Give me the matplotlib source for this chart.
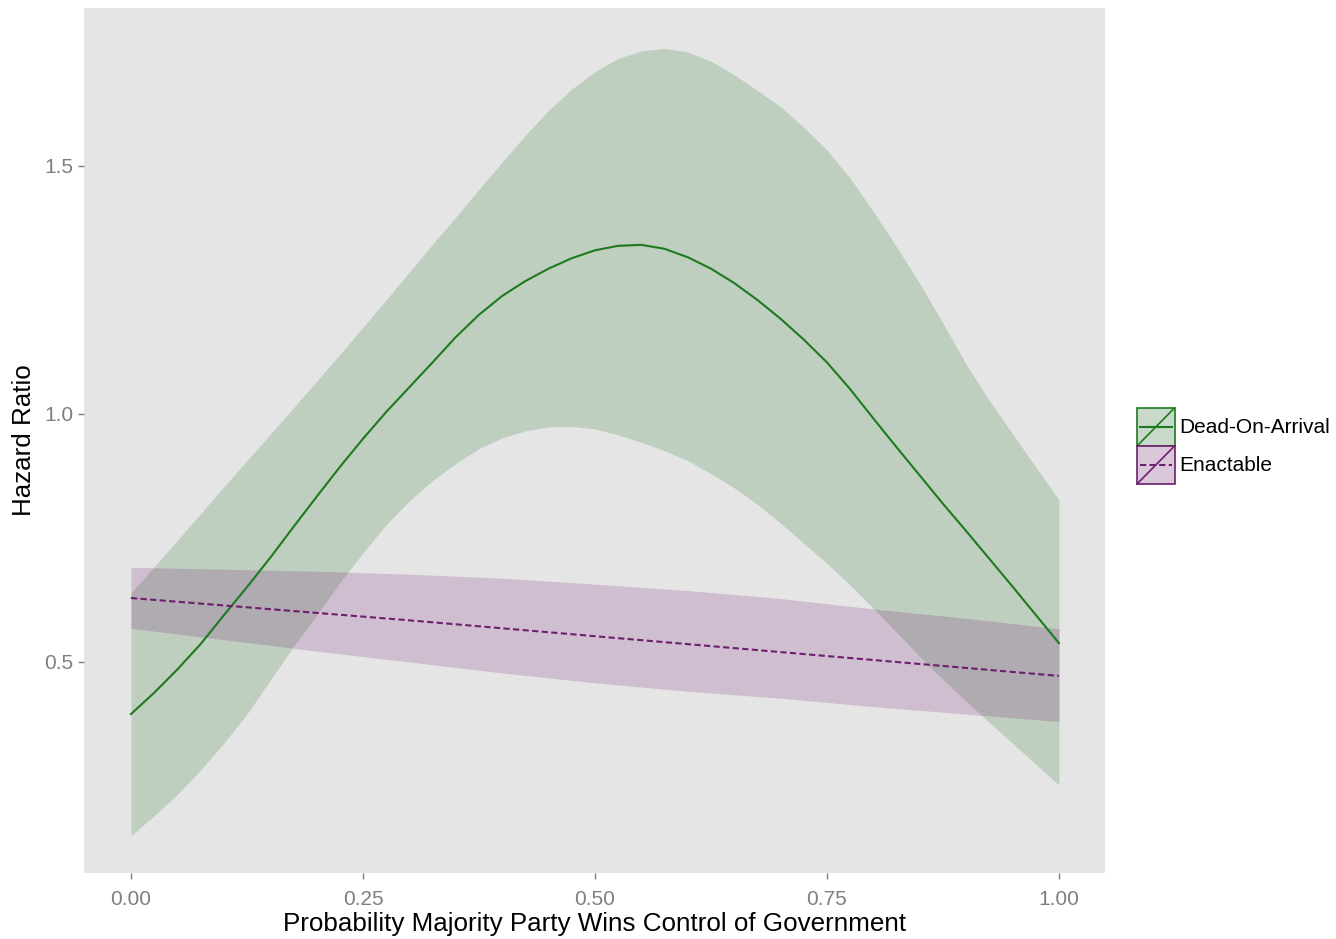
import matplotlib
matplotlib.use("Agg")
import matplotlib.pyplot as plt
from matplotlib.legend_handler import HandlerBase
from matplotlib.patches import Rectangle
from matplotlib.lines import Line2D

plt.rcParams['font.family'] = ['Liberation Sans', 'DejaVu Sans']

# ---- data ----
x = [0.000, 0.025, 0.050, 0.075, 0.100, 0.125, 0.150, 0.175, 0.200, 0.225,
     0.250, 0.275, 0.300, 0.325, 0.350, 0.375, 0.400, 0.425, 0.450, 0.475,
     0.500, 0.525, 0.550, 0.575, 0.600, 0.625, 0.650, 0.675, 0.700, 0.725,
     0.750, 0.775, 0.800, 0.825, 0.850, 0.875, 0.900, 0.925, 0.950, 0.975, 1.000]

doa_fit = [0.395, 0.438, 0.485, 0.536, 0.594, 0.651, 0.710, 0.772, 0.833, 0.893,
           0.950, 1.004, 1.054, 1.104, 1.155, 1.200, 1.238, 1.268, 1.293, 1.314,
           1.330, 1.339, 1.341, 1.333, 1.316, 1.293, 1.264, 1.230, 1.192, 1.150,
           1.104, 1.050, 0.991, 0.933, 0.876, 0.819, 0.764, 0.708, 0.652, 0.595, 0.538]
doa_hi = [0.639, 0.692, 0.745, 0.799, 0.853, 0.906, 0.959, 1.012, 1.066, 1.120,
          1.175, 1.230, 1.286, 1.342, 1.397, 1.453, 1.508, 1.562, 1.612, 1.655,
          1.690, 1.717, 1.732, 1.737, 1.730, 1.711, 1.684, 1.652, 1.620, 1.578,
          1.532, 1.475, 1.408, 1.337, 1.263, 1.183, 1.100, 1.027, 0.960, 0.893, 0.827]
doa_lo = [0.150, 0.190, 0.233, 0.282, 0.336, 0.395, 0.463, 0.531, 0.594, 0.660,
          0.720, 0.777, 0.825, 0.866, 0.900, 0.930, 0.952, 0.966, 0.974, 0.975,
          0.970, 0.958, 0.943, 0.926, 0.906, 0.880, 0.851, 0.818, 0.780, 0.739,
          0.699, 0.655, 0.608, 0.560, 0.511, 0.465, 0.421, 0.378, 0.336, 0.294, 0.252]

x_ena = [0.0, 0.1, 0.2, 0.3, 0.4, 0.5, 0.6, 0.7, 0.8, 0.9, 1.0]
ena_fit = [0.629, 0.614, 0.599, 0.584, 0.568, 0.552, 0.536, 0.520, 0.504, 0.488, 0.472]
ena_hi = [0.691, 0.687, 0.683, 0.677, 0.669, 0.657, 0.644, 0.628, 0.607, 0.588, 0.567]
ena_lo = [0.568, 0.545, 0.522, 0.500, 0.478, 0.458, 0.441, 0.427, 0.410, 0.395, 0.380]

labels = ["Dead-On-Arrival", "Enactable"]
xticks = [0.00, 0.25, 0.50, 0.75, 1.00]
xtick_labels = ["0.00", "0.25", "0.50", "0.75", "1.00"]
yticks = [0.5, 1.0, 1.5]
ytick_labels = ["0.5", "1.0", "1.5"]

green_line = "#1E7A1E"
green_fill = (34/255, 114/255, 39/255)
purple_line = "#6E1E6E"
purple_fill = (119/255, 34/255, 119/255)
alpha = 0.2

fig = plt.figure(figsize=(13.36, 9.39), dpi=100)
ax = fig.add_axes([84/1336, 1 - 873/939, (1105-84)/1336, (873-8)/939])
ax.set_facecolor("#E5E5E5")

ax.fill_between(x, doa_lo, doa_hi, color=green_fill, alpha=alpha, linewidth=0)
ax.plot(x, doa_fit, color=green_line, linewidth=1.5)
ax.fill_between(x_ena, ena_lo, ena_hi, color=purple_fill, alpha=alpha, linewidth=0)
ax.plot(x_ena, ena_fit, color=purple_line, linewidth=1.5, dashes=(3, 1.6))

ax.set_xlim(-0.0506, 1.0496)
ax.set_ylim(0.0746, 1.8185)
for s in ax.spines.values():
    s.set_visible(False)
ax.set_xticks(xticks)
ax.set_xticklabels(xtick_labels)
ax.set_yticks(yticks)
ax.set_yticklabels(ytick_labels)
ax.tick_params(axis='both', colors="#7F7F7F", labelcolor="#7F7F7F", labelsize=15,
               length=4.5, width=1.0, direction='out')
ax.tick_params(axis='x', pad=8)
ax.tick_params(axis='y', pad=3)
ax.set_xlabel("Probability Majority Party Wins Control of Government", fontsize=18.7,
              color="black", labelpad=2)
ax.set_ylabel("Hazard Ratio", fontsize=18.7, color="black", labelpad=6)


class KeyHandler(HandlerBase):
    def __init__(self, line_color, fill_color, dashed):
        super().__init__()
        self.line_color = line_color
        self.fill_color = fill_color
        self.dashed = dashed

    def create_artists(self, legend, orig_handle, xdescent, ydescent, width, height,
                       fontsize, trans):
        x0, y0 = -xdescent, -ydescent
        bg = Rectangle((x0, y0), width, height, facecolor="#F2F2F2", edgecolor='none',
                       transform=trans)
        rect = Rectangle((x0, y0), width, height, facecolor=self.fill_color, alpha=alpha,
                         edgecolor='none', transform=trans)
        border = Rectangle((x0, y0), width, height, facecolor='none',
                           edgecolor=self.line_color, linewidth=1.2, transform=trans)
        diag = Line2D([x0, x0 + width], [y0, y0 + height], color=self.line_color,
                      linewidth=1.2, transform=trans)
        kw = dict(dashes=(3, 1.6)) if self.dashed else {}
        hl = Line2D([x0 + 2, x0 + width - 2], [y0 + height / 2, y0 + height / 2],
                    color=self.line_color, linewidth=1.5, transform=trans, **kw)
        return [bg, rect, diag, hl, border]


h1 = Rectangle((0, 0), 1, 1)
h2 = Rectangle((0, 0), 1, 1)
fig.legend([h1, h2], labels, loc='center left', bbox_to_anchor=(1137/1336, 1 - 446/939),
           frameon=False, fontsize=15, handlelength=1.8, handleheight=2.43,
           labelspacing=0.0, handletextpad=0.25, borderpad=0, borderaxespad=0,
           handler_map={h1: KeyHandler(green_line, green_fill, False),
                        h2: KeyHandler(purple_line, purple_fill, True)})

fig.savefig("out.png", dpi=100, facecolor="white")
